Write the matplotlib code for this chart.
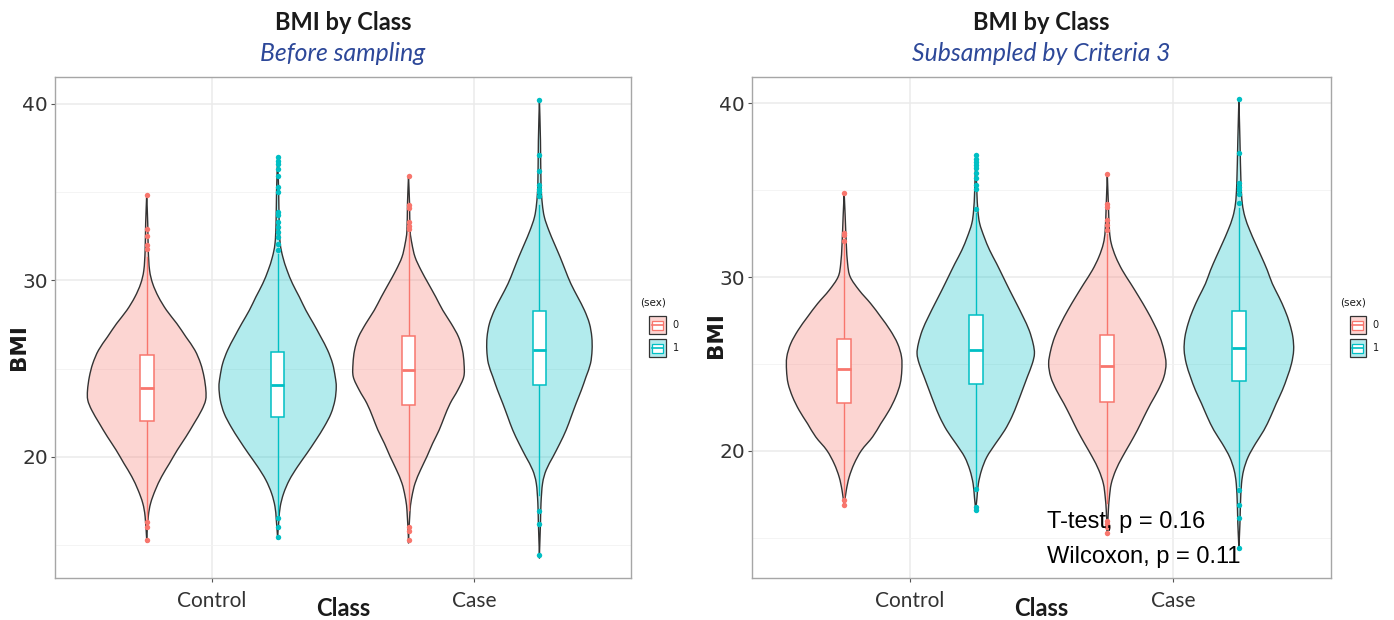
import numpy as np
import matplotlib
matplotlib.use("Agg")
import matplotlib.pyplot as plt
from matplotlib.path import Path
from matplotlib.patches import PathPatch, Rectangle

# ---- data -----------------------------------------------------------------
classes = ["Control", "Case"]
sexes = ["0", "1"]
sex_colors = ["#F8766D", "#00BFC4"]

# violin outlines: BMI levels and half widths (in class-spacing units)
before_ctrl0_bmi = [34.85, 33.21, 31.70, 30.57, 29.81, 29.06, 28.30, 27.55, 26.79, 26.04, 25.28, 24.53,
                    23.77, 23.21, 22.64, 21.89, 21.13, 20.38, 19.62, 18.87, 18.11, 17.36, 16.60, 15.28]
before_ctrl0_hw = [0.0, 0.004, 0.006, 0.011, 0.023, 0.045, 0.076, 0.115, 0.150, 0.184, 0.206, 0.219,
                   0.226, 0.225, 0.210, 0.181, 0.150, 0.117, 0.087, 0.057, 0.033, 0.015, 0.006, 0.0]
before_ctrl1_bmi = [36.98, 35.09, 33.21, 32.08, 31.32, 30.57, 29.81, 29.06, 28.30, 27.55, 26.79, 26.04, 25.28,
                    24.53, 23.96, 23.21, 22.45, 21.70, 20.94, 20.19, 19.43, 18.68, 17.92, 17.17, 16.42, 15.42]
before_ctrl1_hw = [0.0, 0.004, 0.006, 0.010, 0.020, 0.036, 0.057, 0.083, 0.108, 0.137, 0.165, 0.191, 0.210,
                   0.220, 0.224, 0.219, 0.204, 0.178, 0.146, 0.112, 0.076, 0.045, 0.023, 0.010, 0.005, 0.0]
before_case0_bmi = [35.91, 34.34, 32.83, 32.08, 31.32, 30.57, 29.81, 29.06, 28.30, 27.55, 26.79, 26.04, 25.28,
                    24.53, 23.77, 23.02, 22.26, 21.51, 20.75, 20.00, 19.25, 18.49, 17.74, 16.98, 15.28]
before_case0_hw = [0.0, 0.004, 0.006, 0.013, 0.025, 0.048, 0.076, 0.104, 0.131, 0.163, 0.191, 0.206, 0.212,
                   0.211, 0.188, 0.159, 0.137, 0.117, 0.092, 0.070, 0.046, 0.025, 0.013, 0.006, 0.0]
before_case1_bmi = [40.23, 37.92, 35.47, 34.34, 33.58, 32.83, 32.08, 31.32, 30.57, 29.81, 29.06, 28.30, 27.55, 26.79,
                    26.04, 25.28, 24.53, 23.77, 23.02, 22.26, 21.51, 20.75, 20.00, 19.25, 18.49, 17.36, 16.23, 14.43]
before_case1_hw = [0.0, 0.004, 0.006, 0.011, 0.019, 0.036, 0.057, 0.079, 0.099, 0.120, 0.146, 0.172, 0.191, 0.200,
                   0.201, 0.195, 0.178, 0.160, 0.140, 0.121, 0.102, 0.078, 0.052, 0.026, 0.012, 0.006, 0.004, 0.0]

after_ctrl0_bmi = [34.86, 33.47, 31.94, 30.79, 30.02, 29.25, 28.48, 27.72, 26.95, 26.18, 25.41, 24.64,
                   23.88, 23.11, 22.34, 21.57, 20.81, 20.04, 19.27, 18.50, 17.73, 16.87]
after_ctrl0_hw = [0.0, 0.004, 0.008, 0.013, 0.023, 0.057, 0.101, 0.139, 0.175, 0.203, 0.218, 0.219,
                  0.213, 0.196, 0.171, 0.139, 0.108, 0.066, 0.038, 0.019, 0.008, 0.0]
after_ctrl1_bmi = [37.02, 35.01, 33.86, 33.09, 32.32, 31.55, 30.79, 30.02, 29.25, 28.48, 27.72, 26.95, 26.18,
                   25.60, 25.03, 24.26, 23.49, 22.73, 21.96, 21.19, 20.42, 19.65, 18.89, 18.12, 17.35, 16.58]
after_ctrl1_hw = [0.0, 0.004, 0.008, 0.015, 0.032, 0.053, 0.079, 0.104, 0.129, 0.155, 0.180, 0.203, 0.218,
                  0.223, 0.215, 0.196, 0.177, 0.158, 0.137, 0.110, 0.075, 0.042, 0.022, 0.010, 0.005, 0.0]
after_case0_bmi = [35.91, 34.24, 32.71, 31.94, 31.17, 30.40, 29.63, 28.87, 28.10, 27.33, 26.56, 25.80, 25.03,
                   24.26, 23.49, 22.73, 21.96, 21.19, 20.42, 19.65, 18.89, 18.12, 17.35, 16.58, 15.28]
after_case0_hw = [0.0, 0.004, 0.008, 0.015, 0.032, 0.057, 0.089, 0.120, 0.150, 0.177, 0.200, 0.215, 0.223,
                  0.215, 0.193, 0.165, 0.139, 0.114, 0.086, 0.057, 0.032, 0.015, 0.008, 0.004, 0.0]
after_case1_bmi = [40.23, 37.89, 35.39, 34.24, 33.47, 32.71, 31.94, 31.17, 30.40, 29.63, 28.87, 28.10, 27.33, 26.56,
                   25.80, 25.03, 24.26, 23.49, 22.73, 21.96, 21.19, 20.42, 19.65, 18.89, 18.12, 16.97, 15.82, 14.43]
after_case1_hw = [0.0, 0.004, 0.008, 0.013, 0.023, 0.041, 0.063, 0.086, 0.108, 0.127, 0.152, 0.175, 0.193, 0.205,
                  0.208, 0.200, 0.184, 0.165, 0.142, 0.120, 0.095, 0.063, 0.035, 0.018, 0.010, 0.006, 0.004, 0.0]

# box stats: [q1, median, q3, whisker low, whisker high]
before_box = [[22.00, 23.90, 25.75, 16.40, 31.30],
              [22.23, 24.06, 25.94, 16.70, 31.50],
              [22.92, 24.90, 26.85, 17.00, 32.70],
              [24.06, 26.04, 28.25, 17.80, 34.30]]
after_box = [[22.78, 24.70, 26.47, 17.30, 31.90],
             [23.84, 25.80, 27.81, 17.90, 33.70],
             [22.82, 24.88, 26.70, 17.00, 32.50],
             [24.01, 25.95, 28.04, 18.00, 34.00]]

before_outliers = [[34.85, 32.9, 32.5, 32.0, 31.8, 16.3, 16.0, 15.3],
                   [36.98, 36.79, 36.57, 36.32, 35.94, 35.28, 35.0, 33.87, 33.68, 33.3, 33.02,
                    32.74, 32.45, 32.08, 31.7, 16.51, 16.0, 15.42],
                   [35.9, 34.25, 34.1, 33.3, 33.1, 32.9, 16.04, 15.8, 15.28],
                   [40.23, 37.1, 36.2, 35.4, 35.2, 35.0, 34.8, 16.9, 16.17, 14.43]]
after_outliers = [[34.86, 32.55, 32.4, 32.1, 17.2, 16.87],
                  [37.02, 36.83, 36.64, 36.45, 36.26, 35.97, 35.68, 35.3, 35.1, 33.9, 17.83, 16.78, 16.58],
                  [35.91, 34.24, 34.05, 33.28, 33.0, 32.7, 16.0, 15.8, 15.6, 15.28],
                  [40.23, 37.12, 35.4, 35.2, 35.0, 34.8, 34.28, 17.77, 16.87, 16.16, 14.43]]

test_labels = ["T-test, p = 0.16", "Wilcoxon, p = 0.11"]

FONT = "Lato"


def smooth_path(xs, ys):
    # Catmull-Rom through the outline points, drawn as cubic beziers
    pts = np.column_stack([xs, ys])
    verts = [pts[0]]
    codes = [Path.MOVETO]
    n = len(pts)
    for i in range(n - 1):
        p0 = pts[i - 1] if i > 0 else pts[i]
        p1, p2 = pts[i], pts[i + 1]
        p3 = pts[i + 2] if i + 2 < n else pts[i + 1]
        verts += [p1 + (p2 - p0) / 6.0, p2 - (p3 - p1) / 6.0, p2]
        codes += [Path.CURVE4] * 3
    verts.append(pts[0])
    codes.append(Path.CLOSEPOLY)
    return Path(verts, codes)


def draw_violin(ax, x, bmi, hw, color):
    bmi = np.asarray(bmi)
    hw = np.asarray(hw)
    xs = np.concatenate([x + hw, (x - hw)[::-1]])
    ys = np.concatenate([bmi, bmi[::-1]])
    path = smooth_path(xs, ys)
    ax.add_patch(PathPatch(path, facecolor=color, alpha=0.3, edgecolor="none", zorder=2))
    ax.add_patch(PathPatch(path, facecolor="none", edgecolor="#333333", lw=1.0, zorder=3))


def draw_box(ax, x, stats, outliers, color):
    q1, med, q3, lo, hi = stats
    bw = 0.026
    ax.plot([x, x], [lo, q1], color=color, lw=1.0, zorder=4)
    ax.plot([x, x], [q3, hi], color=color, lw=1.0, zorder=4)
    ax.add_patch(Rectangle((x - bw, q1), 2 * bw, q3 - q1, facecolor="white",
                           edgecolor=color, lw=1.1, zorder=5))
    ax.plot([x - bw, x + bw], [med, med], color=color, lw=2.0, zorder=6, solid_capstyle="butt")
    ax.plot([x] * len(outliers), outliers, "o", color=color, ms=3.9, mec="none", zorder=7)


def draw_legend(ax):
    t = ax.transAxes
    ax.text(1.015, 0.55, "(sex)", transform=t, fontsize=7.5, color="#1a1a1a",
            family="DejaVu Sans", va="center", ha="left")
    kw, kh = 0.028, 0.036
    for i, c in enumerate(sex_colors):
        x0 = 1.032
        y0 = 0.487 - i * 0.046
        ax.add_patch(Rectangle((x0, y0), kw, kh, transform=t, clip_on=False,
                               facecolor=c, alpha=0.3, edgecolor="none"))
        ax.add_patch(Rectangle((x0, y0), kw, kh, transform=t, clip_on=False,
                               facecolor="none", edgecolor="#333333", lw=0.9))
        ax.add_patch(Rectangle((x0 + 0.004, y0 + kh * 0.25), kw - 0.008, kh * 0.5, transform=t,
                               clip_on=False, facecolor="white", edgecolor=c, lw=0.9))
        ax.plot([x0 + 0.004, x0 + kw - 0.004], [y0 + kh / 2] * 2, transform=t,
                clip_on=False, color=c, lw=1.2)
        ax.text(x0 + kw + 0.012, y0 + kh / 2, sexes[i], transform=t, fontsize=7,
                color="#1a1a1a", family="DejaVu Sans", va="center", ha="left")


def setup_axes(ax, ylim, subtitle, ylab_y):
    ax.set_xlim(0.4, 2.6)
    ax.set_ylim(*ylim)
    ax.set_xticks([1, 2])
    ax.set_xticklabels(classes, family=FONT, fontsize=15, color="#333333")
    ax.set_yticks([20, 30, 40])
    ax.set_yticklabels(["20", "30", "40"], family="DejaVu Sans", fontsize=14.5, color="#333333")
    ax.set_yticks([15, 25, 35], minor=True)
    ax.tick_params(axis="both", which="major", length=3, width=0.8, color="#555555")
    ax.tick_params(axis="x", which="major", pad=6)
    ax.tick_params(axis="y", which="major", pad=2)
    ax.tick_params(axis="y", which="minor", length=0)
    ax.grid(True, which="major", color="#ebebeb", lw=1.1, zorder=0)
    ax.grid(True, which="minor", axis="y", color="#f2f2f2", lw=0.6, zorder=0)
    ax.set_axisbelow(True)
    for s in ax.spines.values():
        s.set_color("#a6a6a6")
        s.set_linewidth(1.0)
    ax.set_ylabel("BMI", family="DejaVu Sans", fontsize=15.5, fontweight="bold",
                  color="#1a1a1a")
    ax.yaxis.set_label_coords(-0.045, ylab_y)
    ax.text(0.5, -0.06, "Class", transform=ax.transAxes, ha="center", va="center",
            family=FONT, fontsize=17, fontweight="bold", color="#1a1a1a")
    ax.text(0.5, 1.108, "BMI by Class", transform=ax.transAxes, ha="center", va="center",
            family=FONT, fontsize=17, fontweight="bold", color="#1a1a1a")
    ax.text(0.5, 1.047, subtitle, transform=ax.transAxes, ha="center", va="center",
            family=FONT, fontsize=17.8, style="italic", color="#2d4899")


def draw_panel(ax, outlines, boxes, outliers):
    for k, (bmi, hw) in enumerate(outlines):
        cls = k // 2
        sex = k % 2
        x = cls + 1 + (-0.25 if sex == 0 else 0.25)
        draw_violin(ax, x, bmi, hw, sex_colors[sex])
        draw_box(ax, x, boxes[k], outliers[k], sex_colors[sex])


fig = plt.figure(figsize=(13.94, 6.2), dpi=100)
ax1 = fig.add_axes([0.0395, 0.0677, 0.4132, 0.8081])
ax2 = fig.add_axes([0.5395, 0.0677, 0.4153, 0.8081])

draw_panel(ax1,
           [(before_ctrl0_bmi, before_ctrl0_hw), (before_ctrl1_bmi, before_ctrl1_hw),
            (before_case0_bmi, before_case0_hw), (before_case1_bmi, before_case1_hw)],
           before_box, before_outliers)
setup_axes(ax1, (13.12, 41.53), "Before sampling", 0.46)
draw_legend(ax1)

draw_panel(ax2,
           [(after_ctrl0_bmi, after_ctrl0_hw), (after_ctrl1_bmi, after_ctrl1_hw),
            (after_case0_bmi, after_case0_hw), (after_case1_bmi, after_case1_hw)],
           after_box, after_outliers)
setup_axes(ax2, (12.69, 41.52), "Subsampled by Criteria 3", 0.485)
draw_legend(ax2)

ax2.text(1.52, 15.57, test_labels[0], family="Liberation Sans", fontsize=17, color="black",
         ha="left", va="baseline", zorder=10)
ax2.text(1.52, 13.55, test_labels[1], family="Liberation Sans", fontsize=17, color="black",
         ha="left", va="baseline", zorder=10)

fig.savefig("out.png", dpi=100, facecolor="white")
